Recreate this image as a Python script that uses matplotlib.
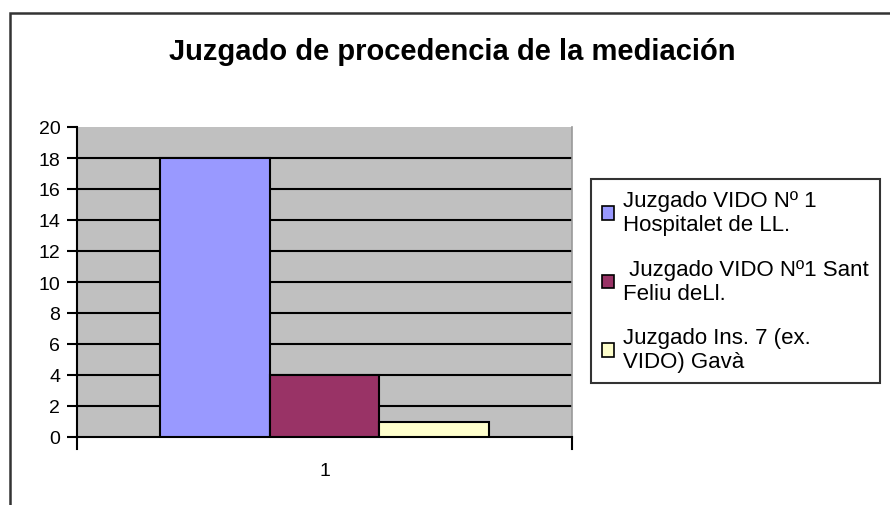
import matplotlib
matplotlib.use("Agg")
import matplotlib.pyplot as plt
from matplotlib.patches import Rectangle, Patch

plt.rcParams['font.family'] = ['Liberation Sans', 'DejaVu Sans']

title = "Juzgado de procedencia de la mediación"
categories = ["1"]
series_names = ["Juzgado VIDO Nº 1\nHospitalet de LL.",
                " Juzgado VIDO Nº1 Sant\nFeliu deLl.",
                "Juzgado Ins. 7 (ex.\nVIDO) Gavà"]
series_values = [[18], [4], [1]]
colors = ["#9999FF", "#993366", "#FFFFCC"]
yticks = [0, 2, 4, 6, 8, 10, 12, 14, 16, 18, 20]

W, H = 890, 506
fig = plt.figure(figsize=(W/100, H/100), dpi=100)
fig.patch.set_facecolor("white")

# outer chart frame (cropped on right and bottom)
fig.patches.append(Rectangle((10/W, -0.1), 1.2, (H-14)/H + 0.1, transform=fig.transFigure,
                             fill=False, edgecolor="#333333", linewidth=1.8))

ax = fig.add_axes([77/W, 1 - 438/H, (572-77)/W, (438-128)/H])
ax.set_facecolor("#C0C0C0")

n = len(series_values)
bw = 0.222
for i, (vals, c, name) in enumerate(zip(series_values, colors, series_names)):
    xs = [k + (i - (n-1)/2) * bw for k in range(len(categories))]
    ax.bar(xs, vals, width=bw, color=c, edgecolor="black", linewidth=1.5, label=name, zorder=3)

ax.set_xlim(-0.5, len(categories) - 0.5)
ax.set_ylim(0, 20)
ax.set_yticks(yticks)
ax.set_yticklabels([str(t) for t in yticks], fontsize=14)
for t in yticks[1:-1]:
    ax.axhline(t, color="black", linewidth=1.5, zorder=1)
ax.set_xticks([0])
ax.set_xticklabels(categories, fontsize=14)
ax.tick_params(axis='x', length=0, pad=18)
ax.tick_params(axis='y', length=7, width=1.5, direction='out', pad=5)
# edge ticks on x axis
ax.plot([-0.5, -0.5], [0, -0.8], color="black", lw=1.5, clip_on=False)
ax.plot([0.5, 0.5], [0, -0.8], color="black", lw=1.5, clip_on=False)

ax.spines["top"].set_visible(False)
ax.spines["right"].set_color("#999999")
ax.spines["right"].set_linewidth(1.2)
ax.spines["left"].set_linewidth(1.5)
ax.spines["bottom"].set_linewidth(1.5)

fig.text(452/W, 1 - 60/H, title, ha="center", va="baseline", fontsize=21, fontweight="bold")

handles = [Patch(facecolor=c, edgecolor="black", linewidth=1.2) for c in colors]
leg = fig.legend(handles, series_names, loc="upper left", bbox_to_anchor=(591/W, 1 - 180/H),
                 fontsize=16, frameon=True, fancybox=False, edgecolor="black",
                 handlelength=0.55, handleheight=0.55, handletextpad=0.4,
                 labelspacing=1.05, borderpad=0.5, borderaxespad=0)
leg.get_frame().set_linewidth(1.5)

fig.savefig("out.png", dpi=100)
